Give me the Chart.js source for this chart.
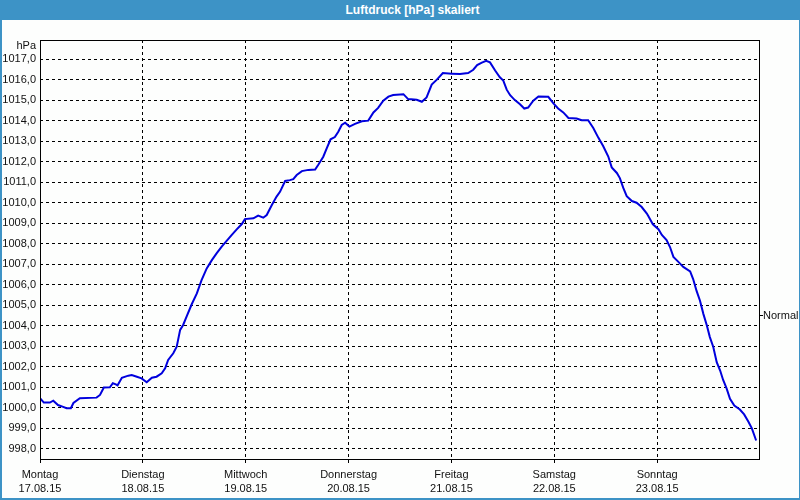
<!DOCTYPE html>
<html>
<head>
<meta charset="utf-8">
<title>Luftdruck</title>
<script src="https://cdn.jsdelivr.net/npm/chart.js"></script>
<style>
body { margin:0; background:#fff; }
#wrap { position:relative; width:800px; height:500px; background:#fdfefd; overflow:hidden; }
#titel { position:absolute; left:0; top:0; width:800px; height:20px; background:#3d93c6; color:#fff;
  font:bold 12px "Liberation Sans", Arial, sans-serif; line-height:20px; text-align:center;
  padding-left:25px; box-sizing:border-box; }
#rand { position:absolute; left:0; top:0; width:800px; height:500px; border:2px solid #3d93c6;
  border-right-width:1px; box-sizing:border-box; pointer-events:none; }
canvas { position:absolute; left:0; top:0; }
</style>
</head>
<body>
<div id="wrap">
  <canvas id="mycanvas1" width="800" height="500"></canvas>
  <div id="titel">Luftdruck [hPa] skaliert</div>
  <div id="rand"></div>
</div>
<script>
// Wochentage / Datum fuer die x-Achse (alle 24h)
var tage = ["Montag", "Dienstag", "Mittwoch", "Donnerstag", "Freitag", "Samstag", "Sonntag"];
var datum = ["17.08.15", "18.08.15", "19.08.15", "20.08.15", "21.08.15", "22.08.15", "23.08.15"];
var tagStunden = [0, 24, 48, 72, 96, 120, 144];

// y-Achse
var yTicks = [998, 999, 1000, 1001, 1002, 1003, 1004, 1005, 1006, 1007, 1008, 1009, 1010,
              1011, 1012, 1013, 1014, 1015, 1016, 1017];
var yMin = 997.46;
var yMax = 1017.93;
var normalWert = 1004.5;

// Messwerte: Stunden seit Montag 0 Uhr, Luftdruck hPa
var stunden = [0, 0.9, 2.3, 3.1, 4.2, 5.4, 6.2, 7.2, 7.8, 9.3, 13.2, 14.0, 14.9, 16.3, 17.0, 17.7,
  18.1, 19.1, 20.6, 21.4, 22.6, 23.7, 24.9, 26.1, 27.2, 28.4, 29.2, 29.9, 31.1, 31.9, 32.7, 33.4,
  34.2, 35.4, 36.6, 37.7, 38.9, 40.1, 41.2, 42.4, 43.6, 44.7, 45.9, 47.1, 47.8, 49.8, 50.9, 52.1,
  52.9, 54.1, 55.2, 56.0, 57.2, 58.3, 59.1, 59.9, 61.1, 62.6, 64.2, 64.9, 66.1, 66.9, 67.8, 68.8,
  69.6, 70.4, 71.2, 72.2, 73.5, 75.1, 76.6, 77.8, 78.9, 80.1, 81.3, 82.4, 84.8, 85.9, 87.9, 89.1,
  90.2, 91.4, 92.6, 94.0, 96.1, 98.0, 99.9, 101.1, 102.0, 103.1, 104.1, 105.0, 106.2, 107.3, 108.1,
  108.9, 109.7, 110.8, 112.0, 113.0, 113.9, 115.1, 116.3, 118.6, 119.8, 120.9, 122.1, 123.3, 125.2,
  126.4, 127.9, 129.1, 130.3, 131.4, 132.6, 133.4, 134.6, 135.3, 136.1, 136.9, 138.1, 139.2, 140.4,
  141.6, 141.9, 143.0, 144.3, 145.1, 146.2, 147.0, 147.8, 148.9, 150.1, 151.7, 152.4, 153.2, 154.0,
  154.8, 155.6, 156.3, 157.1, 157.9, 158.7, 159.4, 160.2, 161.0, 162.0, 163.3, 164.3, 165.3, 166.1,
  167.1];
var druck = [1000.47, 1000.26, 1000.26, 1000.35, 1000.14, 1000.05, 999.98, 999.98, 1000.24, 1000.47,
  1000.5, 1000.63, 1000.99, 1001.0, 1001.2, 1001.15, 1001.1, 1001.47, 1001.57, 1001.6, 1001.52,
  1001.44, 1001.25, 1001.47, 1001.52, 1001.69, 1001.93, 1002.34, 1002.66, 1002.98, 1003.8, 1004.04,
  1004.45, 1005.05, 1005.58, 1006.23, 1006.8, 1007.2, 1007.53, 1007.86, 1008.15, 1008.42, 1008.7,
  1008.96, 1009.2, 1009.24, 1009.37, 1009.27, 1009.4, 1009.89, 1010.3, 1010.53, 1011.06, 1011.1,
  1011.15, 1011.35, 1011.54, 1011.6, 1011.62, 1011.84, 1012.24, 1012.65, 1013.09, 1013.2, 1013.46,
  1013.79, 1013.9, 1013.71, 1013.84, 1013.97, 1014.0, 1014.4, 1014.62, 1014.97, 1015.17, 1015.25,
  1015.29, 1015.05, 1015.02, 1014.92, 1015.13, 1015.76, 1016.0, 1016.32, 1016.29, 1016.27, 1016.32,
  1016.48, 1016.71, 1016.83, 1016.92, 1016.84, 1016.44, 1016.11, 1015.95, 1015.51, 1015.24, 1015.0,
  1014.8, 1014.59, 1014.64, 1014.97, 1015.18, 1015.16, 1014.84, 1014.59, 1014.4, 1014.13, 1014.1,
  1014.02, 1014.02, 1013.64, 1013.16, 1012.76, 1012.25, 1011.72, 1011.45, 1011.2, 1010.72, 1010.32,
  1010.08, 1010.0, 1009.79, 1009.47, 1009.36, 1008.95, 1008.71, 1008.43, 1008.18, 1007.84, 1007.36,
  1007.13, 1006.87, 1006.65, 1006.28, 1005.7, 1005.22, 1004.57, 1004.02, 1003.45, 1002.97, 1002.23,
  1001.82, 1001.36, 1000.95, 1000.44, 1000.11, 999.92, 999.68, 999.32, 999.0, 998.41];

var punkte = [];
for (var i = 0; i < stunden.length; i++) {
  punkte.push({ x: stunden[i], y: druck[i] });
}

Chart.defaults.font.family = "'Liberation Sans', Arial, sans-serif";
Chart.defaults.font.size = 11;
Chart.defaults.color = "#111";

// Rahmen um die Zeichenflaeche + "hPa"
var rahmen = {
  id: "rahmen",
  afterDraw: function(chart) {
    var c = chart.ctx, a = chart.chartArea;
    c.save();
    c.strokeStyle = "#000";
    c.lineWidth = 1;
    c.setLineDash([]);
    c.strokeRect(a.left + 0.5, a.top + 0.5, a.right - a.left - 1, a.bottom - a.top - 1);
    c.fillStyle = "#111";
    c.font = "11px 'Liberation Sans', Arial, sans-serif";
    c.textAlign = "right";
    c.textBaseline = "middle";
    c.fillText("hPa", a.left - 4, 46);
    c.restore();
  }
};

var ctx = document.getElementById("mycanvas1");
new Chart(ctx, {
  type: "line",
  data: {
    datasets: [{
      label: "Luftdruck",
      data: punkte,
      borderColor: "#0000dd",
      borderWidth: 2,
      pointRadius: 0,
      tension: 0,
      fill: false
    }]
  },
  options: {
    responsive: false,
    animation: false,
    devicePixelRatio: 1,
    layout: { padding: { top: 40, left: 0, right: 0, bottom: 0 } },
    plugins: { legend: { display: false }, tooltip: { enabled: false }, title: { display: false } },
    scales: {
      x: {
        type: "linear",
        min: 0,
        max: 168,
        afterBuildTicks: function(s) { s.ticks = tagStunden.map(function(v){ return { value: v }; }); },
        afterFit: function(s) { s.height = 40; },
        grid: { color: "#000", borderDash: [3, 3], tickLength: 3, tickColor: "#000" },
        border: { display: false, dash: [3, 3] },
        ticks: {
          autoSkip: false, maxRotation: 0, padding: 5,
          font: { size: 11, lineHeight: 1.3 },
          callback: function(v) {
            var k = tagStunden.indexOf(v);
            return k < 0 ? "" : [tage[k], datum[k]];
          }
        }
      },
      y: {
        type: "linear",
        position: "left",
        min: yMin,
        max: yMax,
        afterBuildTicks: function(s) { s.ticks = yTicks.map(function(v){ return { value: v }; }); },
        afterFit: function(s) { s.width = 40; },
        grid: { color: "#000", borderDash: [3, 3], drawTicks: false },
        border: { display: false, dash: [3, 3] },
        ticks: {
          padding: 4,
          callback: function(v) { return v.toFixed(1).replace(".", ","); }
        }
      },
      normal: {
        type: "linear",
        position: "right",
        min: yMin,
        max: yMax,
        afterBuildTicks: function(s) { s.ticks = [{ value: normalWert }]; },
        afterFit: function(s) { s.width = 40; },
        grid: { drawOnChartArea: false, drawTicks: true, tickLength: 3, color: "#000" },
        border: { display: false },
        ticks: { padding: 0, callback: function() { return "Normal"; } }
      }
    }
  },
  plugins: [rahmen]
});
</script>
</body>
</html>
